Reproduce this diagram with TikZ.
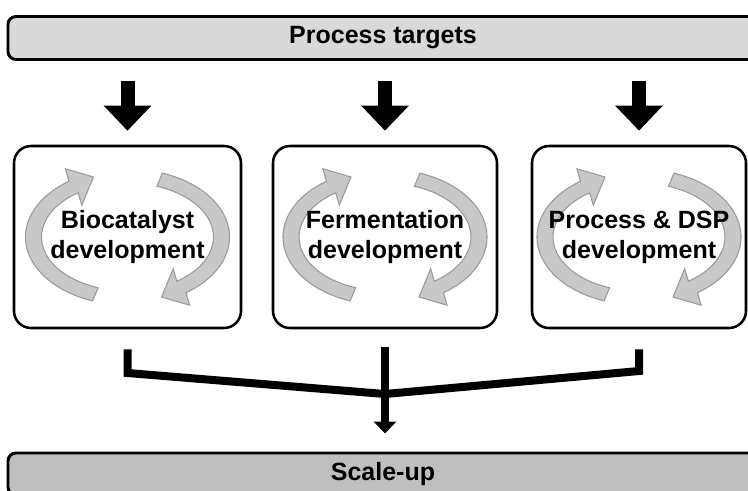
\documentclass[tikz,border=0pt]{standalone}
\usepackage{fontspec}
\setmainfont{Liberation Sans}
\usetikzlibrary{arrows.meta}

\definecolor{targetgray}{HTML}{D9D9D9}
\definecolor{scalegray}{HTML}{BFBFBF}
\definecolor{loopfill}{HTML}{C8C8C8}
\definecolor{loopedge}{HTML}{9A9A9A}

\tikzset{
  bar/.style={draw=black, line width=2.2pt, rounded corners=6pt,
    minimum width=562.5pt, minimum height=32.25pt,
    font=\fontsize{18.75}{22.5}\selectfont\bfseries},
  stagebox/.style={draw=black, line width=1.9pt, rounded corners=12.75pt,
    minimum height=136.5pt, align=center,
    font=\fontsize{18.75}{22.5}\selectfont\bfseries},
  feedarrow/.style={line width=10.5pt, -{Triangle[width=34.5pt,length=18.75pt]},
    shorten <=15pt, shorten >=10.5pt},
  mergeline/.style={line width=6pt},
  mergearrow/.style={line width=6pt, -{Triangle[width=16.5pt,length=9pt]},
    shorten <=13.5pt, shorten >=13.5pt},
  loophalf/.pic={
    \filldraw[fill=loopfill, draw=loopedge, line width=0.8pt]
      (110:102 and 68) arc[start angle=110, end angle=235, x radius=102, y radius=68]
      -- (-62.1,-68.2) -- (-34,-60) -- (-45.7,-31.8)
      -- (235:86 and 54) arc[start angle=235, end angle=110, x radius=86, y radius=54]
      -- cycle;
  }
}

\begin{document}
\begin{tikzpicture}[x=0.75pt, y=-0.75pt]
  \useasboundingbox (0,0) rectangle (748,490);
  \clip (0,0) rectangle (748,490);

  % box centres
  \coordinate (c1) at (127.5,237);
  \coordinate (c2) at (385,237);
  \coordinate (c3) at (639,237);

  % cycle arrows
  \foreach \c in {c1,c2,c3}{
    \pic at (\c) {loophalf};
    \pic[rotate=180] at (\c) {loophalf};
  }

  \node[bar, fill=targetgray] (targets) at (383,38) {Process targets};

  \node[stagebox, minimum width=170.25pt] (b1) at (c1) {Biocatalyst\\development};
  \node[stagebox, minimum width=168pt] (b2) at (c2) {Fermentation\\development};
  \node[stagebox, minimum width=160.5pt] (b3) at (c3) {Process \& DSP\\development};

  \node[bar, fill=scalegray, minimum height=31.5pt] (scale) at (383,474) {Scale-up};

  % targets into each stage
  \foreach \b in {b1,b2,b3}
    \draw[feedarrow] (\b.north |- targets.south) -- (\b.north);

  % merge towards scale-up
  \coordinate (merge) at (385,394);
  \draw[mergeline] ([yshift=-15pt]b1.south) -- (b1.south |- 0,373)
    -- (merge) -- (b3.south |- 0,371) -- ([yshift=-15pt]b3.south);
  \draw[mergearrow] (b2.south) -- (b2.south |- scale.north);

\end{tikzpicture}
\end{document}
